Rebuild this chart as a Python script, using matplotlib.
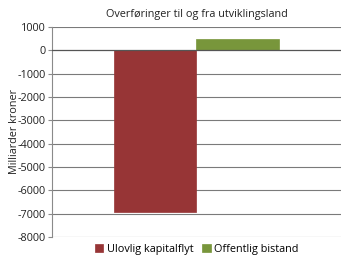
import matplotlib
matplotlib.use("Agg")
import matplotlib.pyplot as plt

plt.rcParams['font.family'] = ['Open Sans', 'DejaVu Sans']

title = "Overføringer til og fra utviklingsland"
ylabel = "Milliarder kroner"
series = ["Ulovlig kapitalflyt", "Offentlig bistand"]
values = [-6930, 500]
colors = ["#973536", "#78963b"]
yticks = list(range(-8000, 1001, 1000))

fig = plt.figure(figsize=(3.5, 2.62), dpi=100)
ax = fig.add_axes([0.1486, 0.0954, 0.8254, 0.8016])

w = 0.287
offsets = [-w / 2, w / 2]
for i, (name, v, c) in enumerate(zip(series, values, colors)):
    ax.bar(offsets[i], v, width=w, color=c, label=name, zorder=3,
           edgecolor=c, linewidth=0.5)

ax.set_xlim(-0.5, 0.5)
ax.set_ylim(-8000, 1000)
ax.set_yticks(yticks)
ax.set_yticklabels([str(t) for t in yticks], fontsize=7.8, color="#222222")
ax.set_xticks([])
for t in yticks:
    ax.axhline(t, color="#555555" if t == 0 else "#7a7a7a",
               linewidth=0.9 if t == 0 else 0.8, zorder=4 if t == 0 else 2)

for s in ["top", "right", "bottom"]:
    ax.spines[s].set_visible(False)
ax.spines["left"].set_color("#8a8a8a")
ax.spines["left"].set_linewidth(0.8)
ax.tick_params(axis="y", length=3, width=0.8, color="#8a8a8a", pad=1.5)

ax.set_ylabel(ylabel, fontsize=7.8, labelpad=-2, color="#222222")
ax.set_title(title, fontsize=7.8, pad=7, color="#222222")

ax.legend(loc="upper center", bbox_to_anchor=(0.5, 0.0), ncol=2, frameon=False,
          fontsize=7.8, handlelength=0.8, handleheight=0.8, handletextpad=0.3,
          columnspacing=0.8, borderaxespad=0.25)

fig.savefig("out.png", dpi=100)
